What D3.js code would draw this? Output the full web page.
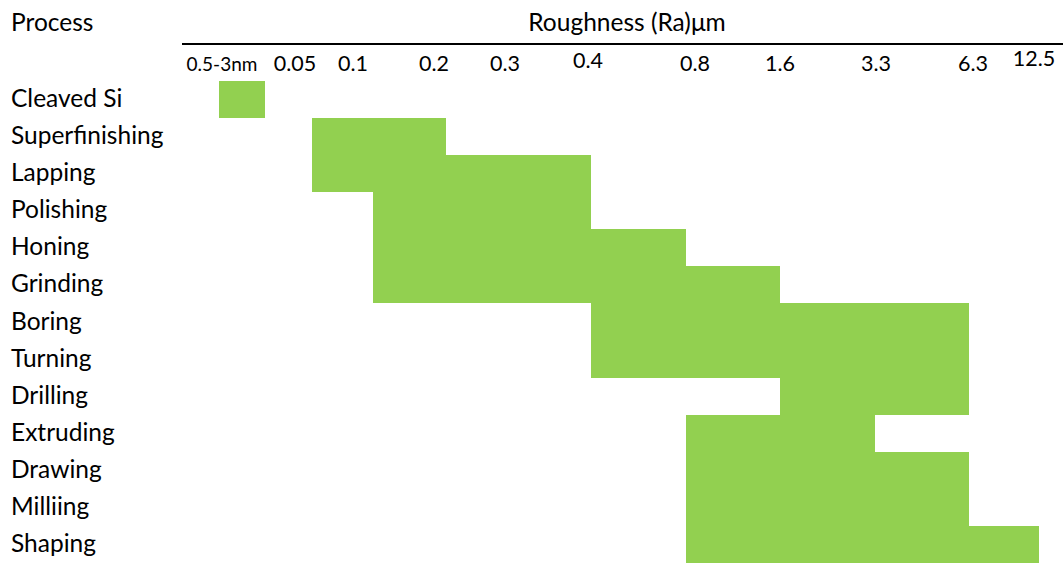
<!DOCTYPE html>
<html><head><meta charset="utf-8">
<script src="https://cdn.jsdelivr.net/npm/d3@7"></script>
<style>body{margin:0;background:#fff}svg{display:block}</style>
</head><body><svg id="chart" width="1063" height="563"></svg>
<script>
// ---- data ----
const processes = ["Cleaved Si","Superfinishing","Lapping","Polishing","Honing","Grinding","Boring","Turning","Drilling","Extruding","Drawing","Milliing","Shaping"];
const rangeLow  = ["0.5nm","0.05","0.05","0.1","0.1","0.1","0.4","0.4","1.6","0.8","0.8","0.8","0.8"];
const rangeHigh = ["3nm","0.2","0.4","0.4","0.8","1.6","6.3","6.3","6.3","3.3","6.3","6.3","12.5"];
const tickLabels = ["0.5-3nm","0.05","0.1","0.2","0.3","0.4","0.8","1.6","3.3","6.3","12.5"];
const gridValues = ["0.5nm","3nm","0.05","0.1","0.2","0.3","0.4","0.8","1.6","3.3","6.3","12.5"];
const axisTitle = "Roughness (Ra)\u03bcm";
const rowTitle = "Process";

// ---- layout (irregular table grid of the reference) ----
const gridPx  = [219,265,312,373,446,518,591,686,780,875,969,1039];
const labelPx = [222,295,353,434,505,588,695,780,876,973,1034];
const labelDy = [0,0,0,0,0,-3,0,0,0,0,-5];
const W = 1063, H = 563;
const fontFam = "Lato, 'Open Sans', sans-serif";
const green = "#92D050";

const svg = d3.select("#chart");
const x = d3.scaleOrdinal().domain(gridValues).range(gridPx);
const xl = d3.scaleOrdinal().domain(tickLabels).range(labelPx);
const y = d3.scaleBand().domain(processes).range([81, 563]).padding(0);

const rows = processes.map((p,i)=>({p, lo: rangeLow[i], hi: rangeHigh[i]}));

svg.append("g").selectAll("rect").data(rows).join("rect")
  .attr("x", d=>x(d.lo)).attr("width", d=>x(d.hi)-x(d.lo))
  .attr("y", d=>y(d.p)).attr("height", y.bandwidth())
  .attr("fill", green).attr("shape-rendering","crispEdges");

// row labels
svg.append("g").selectAll("text").data(processes).join("text")
  .attr("x", 11).attr("y", d=>y(d)+y.bandwidth()/2+7.5)
  .attr("font-family", fontFam).attr("font-size", 24.5).attr("fill","#000")
  .text(d=>d);

// header
svg.append("text").attr("x",11).attr("y",31).attr("font-family",fontFam).attr("font-size",24.5).text(rowTitle);
svg.append("text").attr("x",627).attr("y",31).attr("text-anchor","middle").attr("font-family",fontFam).attr("font-size",24.5).text(axisTitle);
svg.append("line").attr("x1",182).attr("x2",W).attr("y1",44).attr("y2",44).attr("stroke","#000").attr("stroke-width",2);

// tick labels
svg.append("g").selectAll("text").data(tickLabels).join("text")
  .attr("x", d=>xl(d)).attr("y", (d,i)=>71+labelDy[i])
  .attr("text-anchor","middle")
  .attr("font-family", fontFam).attr("font-size", (d,i)=> i===0 ? 19 : 21.5)
  .text(d=>d);
</script></body></html>
